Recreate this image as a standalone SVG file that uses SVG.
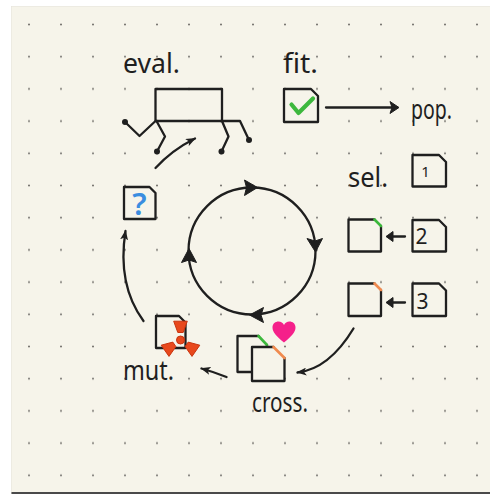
<svg xmlns="http://www.w3.org/2000/svg" width="490" height="494" viewBox="0 0 490 494">
  <defs>
    <style>
      .ink { fill: none; stroke: #1f1f1f; stroke-width: 2.3; stroke-linecap: round; stroke-linejoin: round; }
      .doc { fill: #f6f4ea; stroke: #1f1f1f; stroke-width: 2.3; stroke-linejoin: round; stroke-linecap: round; }
      .solid { fill: #1f1f1f; stroke: #1f1f1f; stroke-width: 1; stroke-linejoin: round; }
      .hand { font-family: "Noto Sans", "DejaVu Sans", sans-serif; font-size: 27px; fill: #1f1f1f; }
      .num { font-family: "Noto Sans", "DejaVu Sans", sans-serif; fill: #1f1f1f; text-anchor: middle; }
      .blade { fill: #e8481c; stroke: #c8340f; stroke-width: 1; stroke-linejoin: round; }
    </style>
    <pattern id="dots" patternUnits="userSpaceOnUse" x="13" y="8.4" width="32" height="32.2">
      <circle cx="16" cy="16.1" r="1" fill="#6f6d68"/>
    </pattern>
    <marker id="pen" markerUnits="userSpaceOnUse" viewBox="0 0 10 8" refX="9" refY="4" markerWidth="10" markerHeight="8" orient="auto">
      <path d="M0,0 L10,4 L0,8 L2.5,4 Z" fill="#1f1f1f"/>
    </marker>
  </defs>

  <!-- sheet of dotted paper -->
  <rect x="0" y="0" width="490" height="494" fill="#ffffff"/>
  <rect x="11" y="6" width="480" height="488" fill="#e4e2db"/>
  <rect x="11.5" y="6.5" width="479" height="486" fill="#f6f4ea"/>
  <rect x="11.5" y="492" width="479" height="2" fill="#4a4a4a"/>
  <rect x="11.5" y="6.5" width="479" height="485" fill="url(#dots)"/>

  <!-- evaluation: walking box -->
  <g id="eval">
    <text class="hand" x="123" y="73" textLength="57" lengthAdjust="spacingAndGlyphs">eval.</text>
    <rect class="ink" x="155.5" y="89" width="66.5" height="32"/>
    <path class="ink" d="M155.5,121 L139.5,136 L125,122"/>
    <path class="ink" d="M156.5,121 L165,136.5 L157,151.5"/>
    <path class="ink" d="M222,121 H240 L249,140"/>
    <path class="ink" d="M222,121 L228.5,136.5 L221.5,151.5"/>
    <circle cx="125" cy="122" r="3" fill="#1f1f1f"/>
    <circle cx="157" cy="151.5" r="3" fill="#1f1f1f"/>
    <circle cx="221.5" cy="151.5" r="3" fill="#1f1f1f"/>
    <circle cx="249" cy="140" r="3" fill="#1f1f1f"/>
  </g>

  <!-- fitness -->
  <g id="fit">
    <text class="hand" x="283" y="73" textLength="35" lengthAdjust="spacingAndGlyphs">fit.</text>
    <path class="doc" d="M284,89 H311 L318,96 V122 H284 Z"/>
    <path d="M291.5,104.5 L298.5,113 L313,98.5" fill="none" stroke="#3db83d" stroke-width="4.2" stroke-linecap="round" stroke-linejoin="round"/>
  </g>

  <!-- population -->
  <g id="pop">
    <text class="hand" x="411" y="119" textLength="41" lengthAdjust="spacingAndGlyphs">pop.</text>
  </g>

  <!-- selection -->
  <g id="sel">
    <text class="hand" x="348" y="187" textLength="40" lengthAdjust="spacingAndGlyphs">sel.</text>
  </g>
  <g id="doc-1">
    <path class="doc" d="M412.5,155 H439 L446,162 V186.5 H412.5 Z"/>
    <text class="num" x="425.5" y="177" font-size="15">1</text>
  </g>
  <g id="doc-2">
    <path class="doc" d="M412.5,220 H439 L446,227 V251.5 H412.5 Z"/>
    <text class="num" x="421.5" y="243.5" font-size="21">2</text>
  </g>
  <g id="doc-3">
    <path class="doc" d="M412.5,283.5 H439 L446,290.5 V316 H412.5 Z"/>
    <text class="num" x="422.5" y="308.5" font-size="21">3</text>
  </g>
  <g id="pick-2">
    <path class="doc" d="M374.5,219.5 H348.5 V251.5 H381 V226"/>
    <path d="M374.5,219.5 L381,226" stroke="#3cb83c" stroke-width="2.6" stroke-linecap="round"/>
  </g>
  <g id="pick-3">
    <path class="doc" d="M374.5,283.5 H348.5 V316 H381 V290"/>
    <path d="M374.5,283.5 L381,290" stroke="#f08a4e" stroke-width="2.6" stroke-linecap="round"/>
  </g>

  <!-- crossover -->
  <g id="cross">
    <path class="doc" d="M258.5,336 H237.5 V372 H267 V345"/>
    <path d="M258.5,336 L267,345" stroke="#3cb83c" stroke-width="2.6" stroke-linecap="round"/>
    <path class="doc" d="M273.5,347 H252 V381 H284.5 V358"/>
    <path d="M273.5,347 L284.5,358" stroke="#f08a4e" stroke-width="2.6" stroke-linecap="round"/>
    <path d="M284,342.5 C276,336 272.5,332 272.5,327.5 C272.5,323.5 275.5,321.5 278.5,321.5 C281,321.5 283,323 284,325 C285,323 287,321.5 289.5,321.5 C292.5,321.5 295.5,323.5 295.5,327.5 C295.5,332 292,336 284,342.5 Z" fill="#f5208a"/>
    <text class="hand" x="252" y="412" textLength="56" lengthAdjust="spacingAndGlyphs">cross.</text>
  </g>

  <!-- mutation -->
  <g id="mut">
    <path class="doc" d="M156,316 H179 L185.5,322.5 V348 H156 Z"/>
    <path class="blade" d="M173.7,321.2 L187.3,321.2 L183.2,332.5 L177.8,332.5 Z"/>
    <path class="blade" d="M199.8,345.2 L192,356.4 L185.1,346.6 L188.2,342.1 Z"/>
    <path class="blade" d="M169,356.4 L161.2,345.2 L172.8,342.1 L175.9,346.6 Z"/>
    <circle cx="180.5" cy="340" r="4" fill="#e8481c" stroke="#c8340f" stroke-width="1"/>
    <text class="hand" x="123" y="380" textLength="51" lengthAdjust="spacingAndGlyphs">mut.</text>
  </g>

  <!-- new individual -->
  <g id="query">
    <path class="doc" d="M124,187 H149.5 L155.5,193 V219 H124 Z"/>
    <text x="139.5" y="215" font-family="Noto Sans, DejaVu Sans, sans-serif" font-size="31" font-weight="600" fill="#3a8de0" text-anchor="middle">?</text>
  </g>

  <!-- connectors -->
  <g id="connectors">
    <!-- cycle -->
    <circle class="ink" cx="252" cy="251" r="63.5"/>
    <path class="solid" d="M244.5,180 L257.5,187.5 L244.5,195.5 L246.5,187.5 Z"/>
    <path class="solid" d="M307,238.5 L315.5,252 L322.5,238.5 L315,241 Z"/>
    <path class="solid" d="M263.5,307.5 L249.5,315 L263.5,322.5 L261,315 Z"/>
    <path class="solid" d="M181.5,262.5 L189,248.5 L196.5,262.5 L189,260 Z"/>

    <!-- fit to pop -->
    <path class="ink" d="M326,107.5 H395"/>
    <path class="solid" d="M390,101.5 L399,107.5 L390,113.5 L392,107.5 Z"/>

    <!-- parents picked from ranked docs -->
    <path class="ink" d="M405,236.5 H390"/>
    <path class="solid" d="M393,231.5 L386,236.5 L393,241.5 Z"/>
    <path class="ink" d="M405,302.5 H390"/>
    <path class="solid" d="M393,297.5 L386,302.5 L393,307.5 Z"/>

    <!-- pen-drawn flow arrows -->
    <path class="ink" d="M353.5,328.5 Q329,369 297.5,372.5" marker-end="url(#pen)"/>
    <path class="ink" d="M226.5,377 Q214,372 201.5,368.5" marker-end="url(#pen)"/>
    <path class="ink" d="M143.5,321 Q117,285 125.5,231" marker-end="url(#pen)"/>
    <path class="ink" d="M155.5,168 Q172,150 195,138.5" marker-end="url(#pen)"/>
  </g>
</svg>
